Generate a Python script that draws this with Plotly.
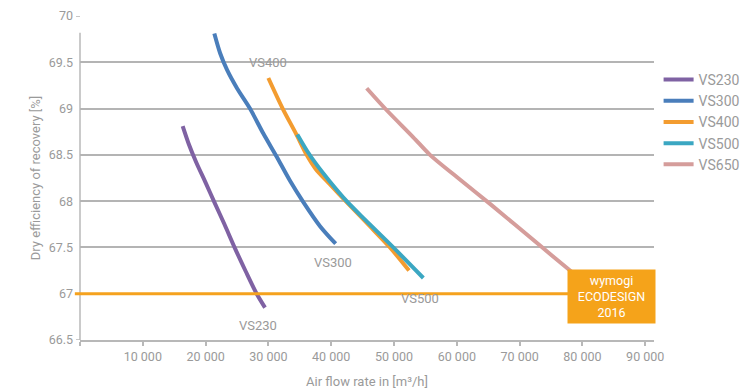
import plotly.graph_objects as go

# ---- data ----
vs230_x = [16350, 17300, 18500, 20000, 21390, 23000, 24680, 26400, 28130, 29460]
vs230_y = [68.81, 68.62, 68.42, 68.20, 67.99, 67.75, 67.49, 67.24, 67.00, 66.85]

vs300_x = [21390, 22300, 23400, 25000, 27070, 29190, 31320, 33440, 35560, 38220, 40710]
vs300_y = [69.81, 69.60, 69.42, 69.22, 69.00, 68.73, 68.48, 68.22, 67.99, 67.73, 67.54]

vs400_x = [29990, 32270, 34390, 36090, 37500, 39810, 42460, 46000, 49360, 52390]
vs400_y = [69.33, 69.00, 68.73, 68.50, 68.35, 68.18, 67.99, 67.74, 67.50, 67.25]

vs500_x = [34600, 36090, 37500, 39810, 42460, 45380, 49890, 54670]
vs500_y = [68.72, 68.55, 68.41, 68.21, 68.00, 67.80, 67.50, 67.17]

vs650_x = [45650, 48730, 53070, 55730, 60000, 65290, 73250, 78030, 80000]
vs650_y = [69.22, 68.99, 68.69, 68.50, 68.26, 67.97, 67.52, 67.25, 67.14]

series_names = ["VS230", "VS300", "VS400", "VS500", "VS650"]
series_colors = ["#7F62A3", "#4A7EBB", "#F39C30", "#3BA7C2", "#D59D9B"]

ecodesign_level = 67
x_ticks = [0, 10000, 20000, 30000, 40000, 50000, 60000, 70000, 80000, 90000]
x_ticklabels = ["", "10 000", "20 000", "30 000", "40 000", "50 000", "60 000", "70 000", "80 000", "90 000"]
y_ticks = [66.5, 67, 67.5, 68, 68.5, 69, 69.5, 70]

# curve labels (text, x, y)
curve_labels = [
    ("VS400", 29860, 69.5),
    ("VS300", 40300, 67.34),
    ("VS500", 54100, 66.95),
    ("VS230", 28300, 66.66),
]

FONT = "Roboto, 'Open Sans', sans-serif"
GRAY = "#9a9a9a"

fig = go.Figure()
xs = [vs230_x, vs300_x, vs400_x, vs500_x, vs650_x]
ys = [vs230_y, vs300_y, vs400_y, vs500_y, vs650_y]
for name, c, x, y in zip(series_names, series_colors, xs, ys):
    fig.add_trace(go.Scatter(
        x=x, y=y, name=name, mode="lines",
        line=dict(color=c, width=4, shape="spline", smoothing=0.8),
    ))

# EcoDesign threshold line
fig.add_shape(type="line", xref="paper", yref="y", x0=-0.009, x1=0.9,
              y0=ecodesign_level, y1=ecodesign_level,
              line=dict(color="#F5A21E", width=3), layer="above")

# y-axis line (partial)
fig.add_shape(type="line", xref="paper", yref="y", x0=0, x1=0,
              y0=66.5, y1=69.82, line=dict(color="#b8b8b8", width=1.5), layer="below")
# small left tick at 66.5 and extension of top gridline
fig.add_shape(type="line", xref="paper", yref="y", x0=-0.007, x1=0,
              y0=66.5, y1=66.5, line=dict(color="#b8b8b8", width=1.5), layer="below")
fig.add_shape(type="line", xref="paper", yref="y", x0=-0.007, x1=0,
              y0=70, y1=70, line=dict(color="#b4b4b4", width=1.5), layer="below")

for t, x, y in curve_labels:
    fig.add_annotation(x=x, y=y, text=t, showarrow=False,
                       font=dict(family=FONT, size=13, color=GRAY))

fig.add_annotation(x=84630, y=66.97, xref="x", yref="y",
                   text="wymogi<br>ECODESIGN<br>2016", showarrow=False,
                   font=dict(family=FONT, size=12.5, color="white"),
                   bgcolor="#F5A31A", width=81, height=47, borderpad=3,
                   align="center")

# the page body has an 8px margin, so the figure is 8px smaller and margins shifted
fig.update_layout(
    width=745, height=382,
    margin=dict(l=72, r=99, t=8, b=50, autoexpand=False),
    paper_bgcolor="white", plot_bgcolor="white",
    font=dict(family=FONT, size=13, color=GRAY),
    legend=dict(x=1.008, y=0.852, xanchor="left", yanchor="top",
                font=dict(family=FONT, size=14, color=GRAY),
                itemwidth=30, tracegroupgap=0),
    xaxis=dict(
        range=[0, 91400], tickvals=x_ticks, ticktext=x_ticklabels,
        showgrid=False, zeroline=False, automargin=False,
        showline=True, linecolor="#b8b8b8", linewidth=1.5,
        ticks="outside", ticklen=4, tickcolor="#b8b8b8", tickwidth=1.5,
        tickfont=dict(family=FONT, size=12.5, color=GRAY),
        title=dict(text="Air flow rate in [m³/h]", standoff=14,
                   font=dict(family=FONT, size=13, color=GRAY)),
    ),
    yaxis=dict(
        range=[66.5, 70], tickvals=y_ticks, automargin=False,
        showgrid=True, gridcolor="#b4b4b4", gridwidth=1.5,
        zeroline=False, showline=False,
        ticks="", ticklabelstandoff=6,
        tickfont=dict(family=FONT, size=12.5, color=GRAY),
        title=dict(text="Dry efficiency of recovery [%]", standoff=5,
                   font=dict(family=FONT, size=13, color=GRAY)),
    ),
)

fig.write_html("out.html")
